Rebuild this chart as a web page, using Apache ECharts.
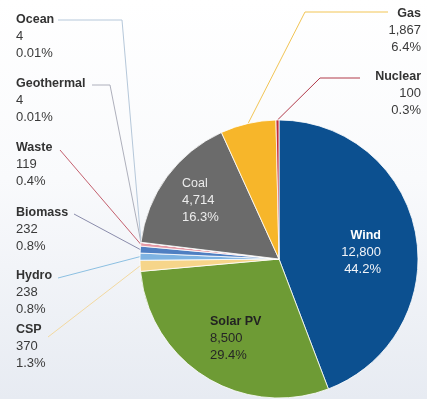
<!DOCTYPE html>
<html>
<head>
<meta charset="utf-8">
<script src="https://cdn.jsdelivr.net/npm/echarts@6/dist/echarts.min.js"></script>
<style>
  html, body { margin: 0; padding: 0; background: #ffffff; }
  #chart { width: 427px; height: 399px; }
</style>
</head>
<body>
<div id="chart"></div>
<script>
// Installed capacity by technology (MW) and the share printed beside each slice
const categories = ['Wind', 'Solar PV', 'CSP', 'Hydro', 'Biomass', 'Waste', 'Geothermal', 'Ocean', 'Coal', 'Gas', 'Nuclear'];
const capacity = [12800, 8500, 370, 238, 232, 119, 4, 4, 4714, 1867, 100];
const shareLabels = ['44.2%', '29.4%', '1.3%', '0.8%', '0.8%', '0.4%', '0.01%', '0.01%', '16.3%', '6.4%', '0.3%'];

const sliceColors = {
  'Wind': '#0c5090', 'Solar PV': '#6e9b35', 'CSP': '#f6d58a', 'Hydro': '#7eb3e2',
  'Biomass': '#4f7fc2', 'Waste': '#e59aa6', 'Geothermal': '#b4b4bc', 'Ocean': '#a9c6e2',
  'Coal': '#6b6b6b', 'Gas': '#f7b62a', 'Nuclear': '#c3303a'
};
const leaderColors = {
  'CSP': '#f3d9a0', 'Hydro': '#8cc0e2', 'Biomass': '#8a8cab', 'Waste': '#c4606e',
  'Geothermal': '#aeb0bc', 'Ocean': '#b6c8da', 'Gas': '#f2c555', 'Nuclear': '#b23a4a'
};

// Where each label block sits, and the bends of its leader line
const labelPlacement = {
  'Wind':       { inside: true, x: 381, y: 227, align: 'right', style: 'w' },
  'Solar PV':   { inside: true, x: 210, y: 313, align: 'left',  style: 's' },
  'Coal':       { inside: true, x: 182, y: 175, align: 'left',  style: 'c' },
  'CSP':        { x: 16,  y: 321, align: 'left',  bend: [[48, 337]] },
  'Hydro':      { x: 16,  y: 267, align: 'left',  bend: [[58, 278]] },
  'Biomass':    { x: 16,  y: 204, align: 'left',  bend: [[74, 214]] },
  'Waste':      { x: 16,  y: 139, align: 'left',  bend: [[60, 150]] },
  'Geothermal': { x: 16,  y: 75,  align: 'left',  bend: [[110, 85], [92, 85]] },
  'Ocean':      { x: 16,  y: 11,  align: 'left',  bend: [[122, 20], [58, 20]] },
  'Gas':        { x: 421, y: 5,   align: 'right', bend: [[305, 12], [388, 12]] },
  'Nuclear':    { x: 421, y: 68,  align: 'right', bend: [[320, 78], [360, 78]] }
};

const FONT = '"Liberation Sans", Arial, sans-serif';
const LH = 17;

const seriesData = categories.map((name, i) => {
  const place = labelPlacement[name];
  const item = {
    name: name,
    value: capacity[i],
    itemStyle: { color: sliceColors[name] }
  };
  if (place.inside) {
    item.label = { position: 'inside' };
    item.labelLine = { show: false };
  } else {
    item.labelLine = { show: true, lineStyle: { color: leaderColors[name], width: 1 } };
  }
  return item;
});

const chart = echarts.init(document.getElementById('chart'), null, { renderer: 'canvas' });

chart.setOption({
  backgroundColor: {
    type: 'linear', x: 0, y: 0, x2: 0, y2: 1,
    colorStops: [
      { offset: 0, color: '#ffffff' },
      { offset: 0.45, color: '#f9fafc' },
      { offset: 1, color: '#e7ebf2' }
    ]
  },
  animation: false,
  series: [{
    type: 'pie',
    center: [279, 259],
    radius: [0, 139],
    startAngle: 90,
    clockwise: true,
    avoidLabelOverlap: false,
    minShowLabelAngle: 0,
    itemStyle: { borderColor: '#ffffff', borderWidth: 0.8 },
    label: {
      show: true,
      position: 'outside',
      fontFamily: FONT,
      formatter: function (p) {
        const place = labelPlacement[p.name];
        const k = place.style || 'o';
        const val = capacity[p.dataIndex].toLocaleString('en-US');
        return '{n' + k + '|' + p.name + '}\n{v' + k + '|' + val + '}\n{v' + k + '|' + shareLabels[p.dataIndex] + '}';
      },
      rich: {
        no: { fontFamily: FONT, fontWeight: 'bold', fontSize: 12.5, color: '#333333', lineHeight: LH },
        vo: { fontFamily: FONT, fontSize: 13, color: '#3a3a3a', lineHeight: LH },
        nw: { fontFamily: FONT, fontWeight: 'bold', fontSize: 12.5, color: '#ffffff', lineHeight: LH },
        vw: { fontFamily: FONT, fontSize: 13, color: '#f2f4f8', lineHeight: LH },
        ns: { fontFamily: FONT, fontWeight: 'bold', fontSize: 12.5, color: '#222222', lineHeight: LH },
        vs: { fontFamily: FONT, fontSize: 13, color: '#262626', lineHeight: LH },
        nc: { fontFamily: FONT, fontSize: 12.5, color: '#ececec', lineHeight: LH },
        vc: { fontFamily: FONT, fontSize: 13, color: '#ececec', lineHeight: LH }
      }
    },
    labelLine: { show: true, length: 10, length2: 10, smooth: false },
    labelLayout: function (params) {
      const place = labelPlacement[categories[params.dataIndex]];
      const out = { x: place.x, y: place.y, align: place.align, verticalAlign: 'top' };
      if (!place.inside && params.labelLinePoints) {
        out.labelLinePoints = [params.labelLinePoints[0]].concat(place.bend);
      }
      return out;
    },
    data: seriesData
  }]
});
</script>
</body>
</html>
